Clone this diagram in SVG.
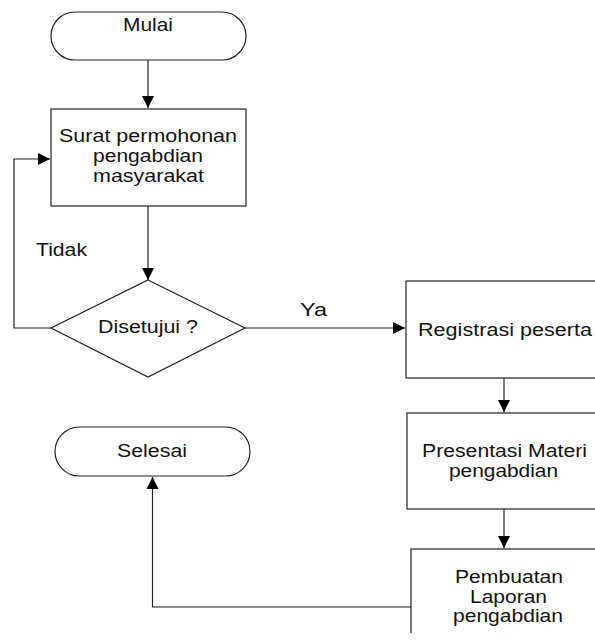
<svg xmlns="http://www.w3.org/2000/svg" width="595" height="641" viewBox="0 0 595 641">
<style>
.s{fill:#fff;stroke:#222;stroke-width:1.2}
.c{fill:none;stroke:#222;stroke-width:1.2}
text{font-family:"Liberation Sans",Arial,sans-serif;font-size:17.5px;fill:#111}
</style>
<defs>
<marker id="a" markerUnits="userSpaceOnUse" markerWidth="14" markerHeight="14" refX="12" refY="7" orient="auto">
<path d="M0,1 L12,7 L0,13 Z" fill="#000"/>
</marker>
<clipPath id="clip"><rect x="0" y="0" width="595" height="633"/></clipPath>
</defs>
<rect width="595" height="641" fill="#fff"/>
<g clip-path="url(#clip)">
<g id="connectors">
<path class="c" d="M148,60 V108" marker-end="url(#a)"/>
<path class="c" d="M148,206 V280" marker-end="url(#a)"/>
<path class="c" d="M51,328 H14 V159 H50" marker-end="url(#a)"/>
<path class="c" d="M245,328 H405" marker-end="url(#a)"/>
<path class="c" d="M504,378 V412" marker-end="url(#a)"/>
<path class="c" d="M504,509 V548" marker-end="url(#a)"/>
<path class="c" d="M411,607 H152.5 V477" marker-end="url(#a)"/>
<text x="36" y="256" textLength="51" lengthAdjust="spacingAndGlyphs">Tidak</text>
<text x="300" y="316" textLength="27" lengthAdjust="spacingAndGlyphs">Ya</text>
</g>
<g id="mulai">
<rect class="s" x="51" y="12" width="195" height="48" rx="24" ry="24"/>
<text x="123" y="31" textLength="50" lengthAdjust="spacingAndGlyphs">Mulai</text>
</g>
<g id="surat">
<rect class="s" x="51" y="109" width="195" height="97"/>
<text x="59" y="142" textLength="178" lengthAdjust="spacingAndGlyphs">Surat permohonan</text>
<text x="93" y="162" textLength="110" lengthAdjust="spacingAndGlyphs">pengabdian</text>
<text x="93" y="182" textLength="111" lengthAdjust="spacingAndGlyphs">masyarakat</text>
</g>
<g id="disetujui">
<polygon class="s" points="148,280 245,328 148,377 51,328"/>
<text x="98" y="333" textLength="100" lengthAdjust="spacingAndGlyphs">Disetujui ?</text>
</g>
<g id="registrasi">
<rect class="s" x="406" y="281" width="200" height="97"/>
<text x="418" y="336" textLength="174" lengthAdjust="spacingAndGlyphs">Registrasi peserta</text>
</g>
<g id="presentasi">
<rect class="s" x="407" y="413" width="200" height="96"/>
<text x="422" y="457" textLength="165" lengthAdjust="spacingAndGlyphs">Presentasi Materi</text>
<text x="449" y="477" textLength="109" lengthAdjust="spacingAndGlyphs">pengabdian</text>
</g>
<g id="pembuatan">
<rect class="s" x="411" y="549" width="200" height="100"/>
<text x="455" y="583" textLength="108" lengthAdjust="spacingAndGlyphs">Pembuatan</text>
<text x="470" y="603" textLength="77" lengthAdjust="spacingAndGlyphs">Laporan</text>
<text x="453" y="622" textLength="110" lengthAdjust="spacingAndGlyphs">pengabdian</text>
</g>
<g id="selesai">
<rect class="s" x="55" y="427" width="195" height="49" rx="24.5" ry="24.5"/>
<text x="117" y="457" textLength="70" lengthAdjust="spacingAndGlyphs">Selesai</text>
</g>
</g>
</svg>
